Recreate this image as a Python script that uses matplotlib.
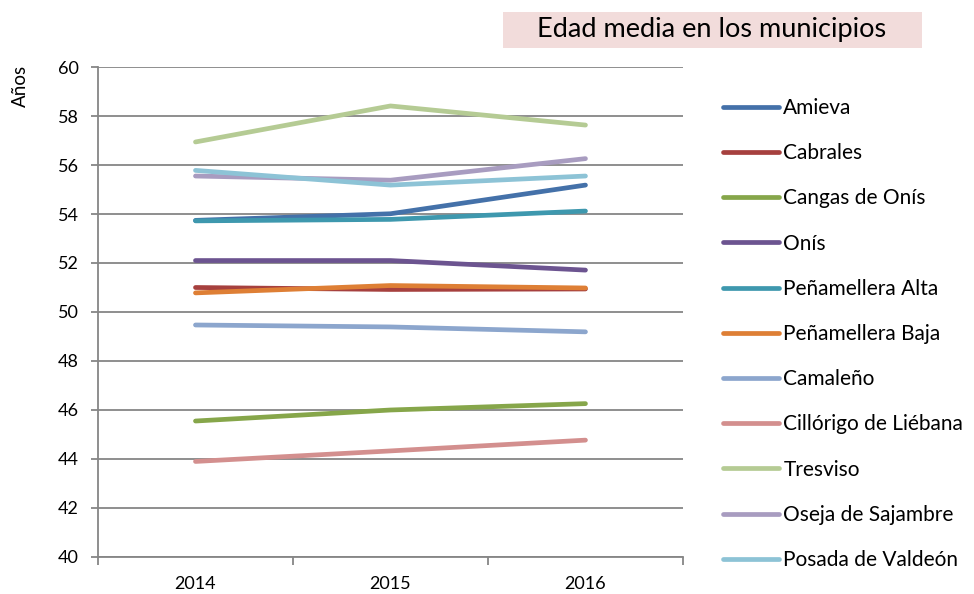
import matplotlib.pyplot as plt
import numpy as np

plt.rcParams['font.family'] = ['Lato', 'DejaVu Sans']

# Datos: edad media por municipio
years = ['2014', '2015', '2016']
municipios = ['Amieva', 'Cabrales', 'Cangas de Onís', 'Onís', 'Peñamellera Alta',
              'Peñamellera Baja', 'Camaleño', 'Cillórigo de Liébana', 'Tresviso',
              'Oseja de Sajambre', 'Posada de Valdeón']
amieva = [53.74, 54.01, 55.18]
cabrales = [51.00, 50.92, 50.94]
cangas_onis = [45.55, 46.00, 46.26]
onis = [52.10, 52.10, 51.71]
penamellera_alta = [53.72, 53.78, 54.12]
penamellera_baja = [50.78, 51.08, 50.98]
camaleno = [49.47, 49.39, 49.19]
cillorigo = [43.90, 44.33, 44.77]
tresviso = [56.94, 58.41, 57.63]
oseja = [55.55, 55.38, 56.26]
posada = [55.78, 55.18, 55.55]

series = [amieva, cabrales, cangas_onis, onis, penamellera_alta, penamellera_baja,
          camaleno, cillorigo, tresviso, oseja, posada]
colores = ['#4471A9', '#A6403E', '#86A64A', '#6C5490', '#3E98AE', '#DE7F35',
           '#8CA6CD', '#D38F8E', '#B5CB94', '#A89CC0', '#8DC3D6']

fig = plt.figure(figsize=(9.74, 5.94), dpi=100)
ax = fig.add_axes([0.1006, 0.0623, 0.6006, 0.8249])

x = np.arange(len(years))
for nombre, valores, color in zip(municipios, series, colores):
    ax.plot(x, valores, color=color, lw=3.4, solid_capstyle='round', label=nombre)

ax.set_xlim(-0.5, 2.5)
ax.set_ylim(40, 60)
ax.set_yticks(np.arange(40, 61, 2))
ax.yaxis.grid(True, color='#868686', lw=1.3)
ax.set_axisbelow(True)

ax.set_xticks(x)
ax.set_xticklabels(years)
ax.set_xticks([-0.5, 0.5, 1.5, 2.5], minor=True)
ax.tick_params(axis='x', which='major', length=0, pad=14, labelsize=13)
ax.tick_params(axis='x', which='minor', length=6, color='#868686', width=1.3)
ax.tick_params(axis='y', length=5, color='#868686', width=1.3, labelsize=13, pad=9)

for lado in ['top', 'right']:
    ax.spines[lado].set_visible(False)
for lado in ['left', 'bottom']:
    ax.spines[lado].set_color('#868686')
    ax.spines[lado].set_linewidth(1.3)

fig.text(20 / 974, 1 - 86 / 594, 'Años', rotation=90, fontsize=13.5, ha='center', va='center')

# Título en recuadro rosado
fig.patches.append(plt.Rectangle((503 / 974, 1 - 47.5 / 594), 419 / 974, 35.5 / 594,
                                 transform=fig.transFigure, facecolor='#F2DCDB',
                                 edgecolor='none'))
fig.text(712 / 974, 1 - 30 / 594, 'Edad media en los municipios', fontsize=19.5,
         ha='center', va='center')

fig.legend(loc='upper left', bbox_to_anchor=(723 / 974, 1 - 98 / 594), frameon=False,
           fontsize=15, handlelength=2.7, handletextpad=0.2, labelspacing=1.21,
           borderpad=0, borderaxespad=0)

fig.savefig('out.png', dpi=100)
